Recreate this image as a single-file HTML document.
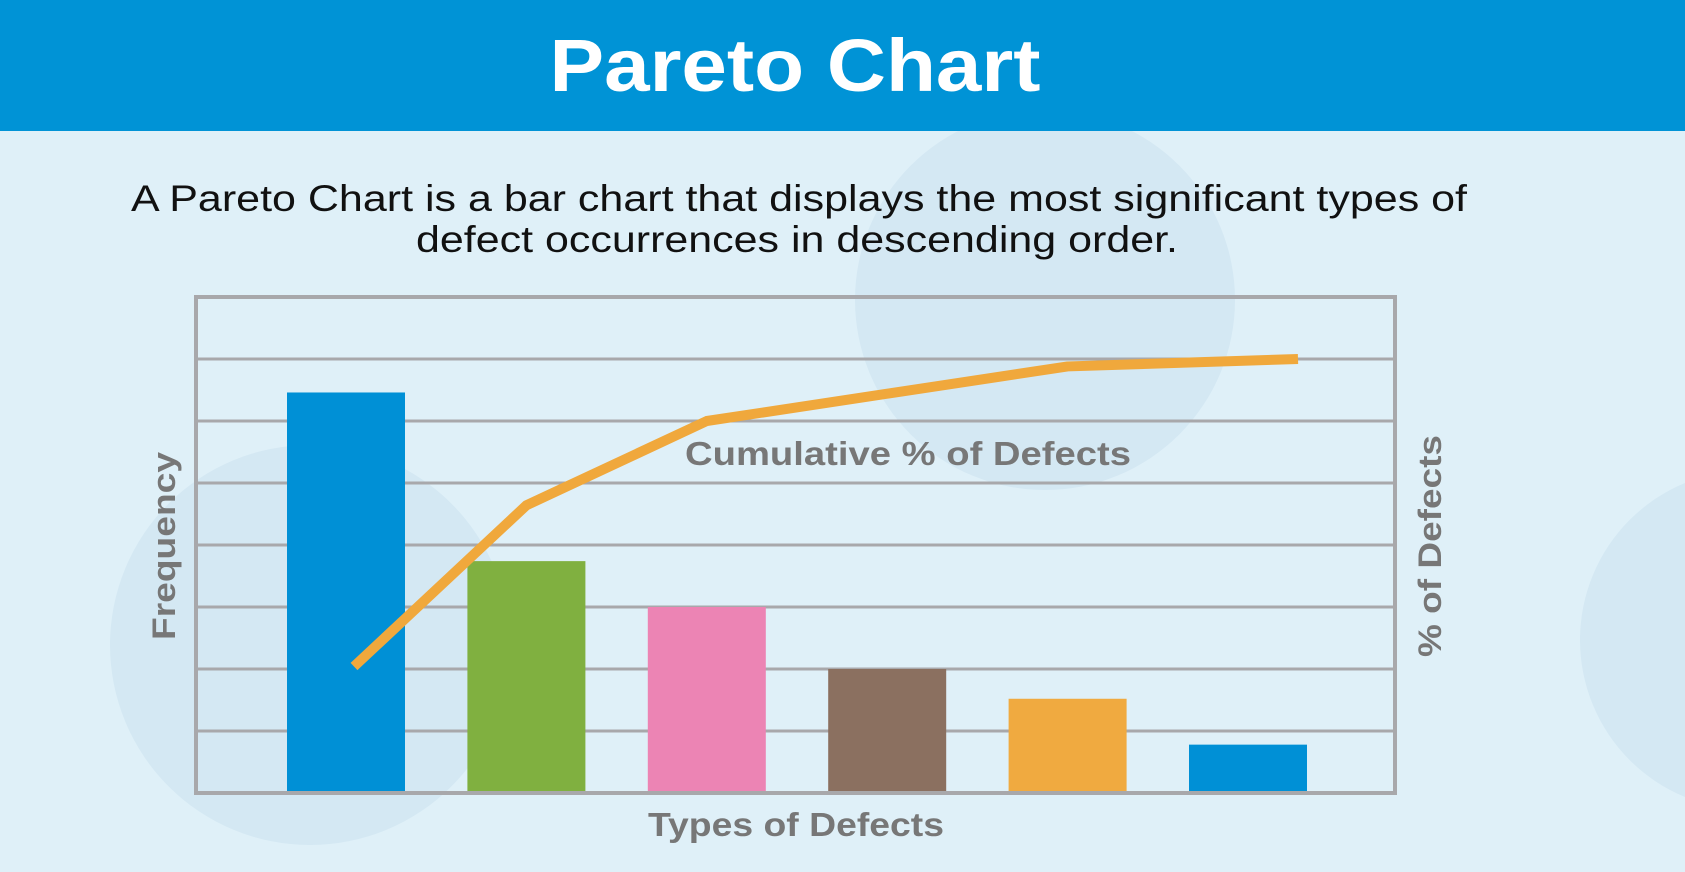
<!DOCTYPE html>
<html><head><meta charset="utf-8"><style>
html,body{margin:0;padding:0;width:1685px;height:872px;overflow:hidden;background:#dff0f8;font-family:"Liberation Sans",sans-serif}
</style></head><body>
<svg id="c" width="1685" height="872" xmlns="http://www.w3.org/2000/svg">
<rect x="0" y="0" width="1685" height="872" fill="#dff0f8"/>
<g fill="#d4e8f3">
<circle cx="1045" cy="300" r="190"/><circle cx="310" cy="645" r="200"/><circle cx="1750" cy="640" r="170"/>
</g>
<rect x="0" y="0" width="1685" height="131" fill="#0093d6"/>
<text x="795" y="91" text-anchor="middle" font-size="74" font-weight="bold" fill="#fff" textLength="491" lengthAdjust="spacingAndGlyphs">Pareto Chart</text>
<text x="799" y="211" text-anchor="middle" font-size="37" fill="#111" textLength="1336" lengthAdjust="spacingAndGlyphs">A Pareto Chart is a bar chart that displays the most significant types of</text>
<text x="797" y="252" text-anchor="middle" font-size="37" fill="#111" textLength="762" lengthAdjust="spacingAndGlyphs">defect occurrences in descending order.</text>
<g id="grid"></g>
<g id="bars"></g>
<rect x="196" y="297" width="1199" height="496" fill="none" stroke="#a8a8ab" stroke-width="4"/>
<polyline id="line" fill="none" stroke="#f0a83c" stroke-width="10" stroke-linejoin="round"/>
<text x="908" y="465" text-anchor="middle" font-size="33" font-weight="bold" fill="#777" textLength="446" lengthAdjust="spacingAndGlyphs">Cumulative % of Defects</text>
<text x="796" y="836" text-anchor="middle" font-size="33" font-weight="bold" fill="#777" textLength="296" lengthAdjust="spacingAndGlyphs">Types of Defects</text>
<text transform="translate(175,546) rotate(-90)" text-anchor="middle" font-size="32" font-weight="bold" fill="#777" textLength="188" lengthAdjust="spacingAndGlyphs">Frequency</text>
<text transform="translate(1441,546) rotate(-90)" text-anchor="middle" font-size="32" font-weight="bold" fill="#777" textLength="222" lengthAdjust="spacingAndGlyphs">% of Defects</text>
</svg>
<script>
const categories=["A","B","C","D","E","F"];
const frequency=[64.6,37.4,30,20,15.2,7.8];
const cumulativePct=[25.5,58,75,80.5,86,87.5];
const colors=["#0090d6","#80b040","#ec84b4","#8b7060","#f0aa40","#0090d6"];
const ns="http://www.w3.org/2000/svg";
const X0=196,X1=1395,Y0=793,Y1=297,FMAX=80;
const barW=118;
function xc(i){return 346+i*180.4;}
function yF(v){return Y0-(v/FMAX)*(Y0-Y1);}
function yP(p){return Y0-(p/100)*(Y0-Y1);}
const grid=document.getElementById('grid');
for(let k=1;k<8;k++){const l=document.createElementNS(ns,'line');
l.setAttribute('x1',X0);l.setAttribute('x2',X1);l.setAttribute('y1',yF(k*10));l.setAttribute('y2',yF(k*10));
l.setAttribute('stroke','#a8a8ab');l.setAttribute('stroke-width','3');


grid.appendChild(l);}
const bars=document.getElementById('bars');
categories.forEach((c,i)=>{const r=document.createElementNS(ns,'rect');
r.setAttribute('x',xc(i)-barW/2);r.setAttribute('width',barW);
r.setAttribute('y',yF(frequency[i]));r.setAttribute('height',Y0-yF(frequency[i]));
r.setAttribute('fill',colors[i]);


bars.appendChild(r);});
document.getElementById('line').setAttribute('points',cumulativePct.map((p,i)=>(xc(i)+(i==0?8:0)+(i==5?50:0))+','+yP(p)).join(' '));
</script>
</body></html>
